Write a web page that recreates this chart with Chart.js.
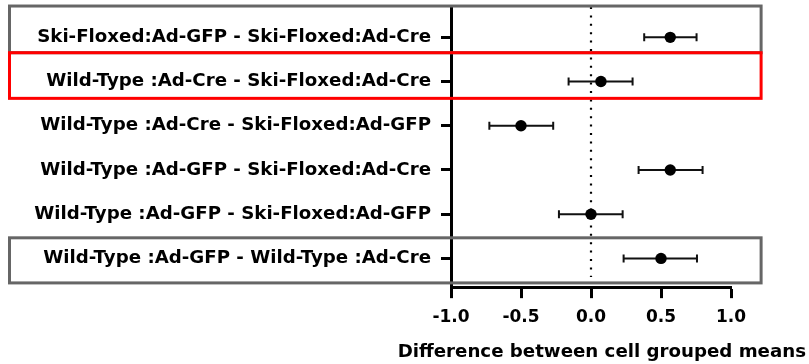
<!DOCTYPE html>
<html><head><meta charset="utf-8">
<script src="https://cdn.jsdelivr.net/npm/chart.js@4/dist/chart.umd.min.js"></script>
<style>html,body{margin:0;padding:0;background:#fff;}#wrap{width:809px;height:364px;}</style>
</head><body><div id="wrap"><canvas id="c" width="809" height="364"></canvas></div>
<script>
const categories = [
  'Ski-Floxed:Ad-GFP - Ski-Floxed:Ad-Cre',
  'Wild-Type :Ad-Cre - Ski-Floxed:Ad-Cre',
  'Wild-Type :Ad-Cre - Ski-Floxed:Ad-GFP',
  'Wild-Type :Ad-GFP - Ski-Floxed:Ad-Cre',
  'Wild-Type :Ad-GFP - Ski-Floxed:Ad-GFP',
  'Wild-Type :Ad-GFP - Wild-Type :Ad-Cre'
];
const means   = [0.566, 0.071, -0.50, 0.566, 0.0, 0.50];
const lowerCI = [0.38, -0.16, -0.726, 0.34, -0.229, 0.233];
const upperCI = [0.754, 0.297, -0.27, 0.797, 0.226, 0.757];
const xTickValues = [-1, -0.5, 0, 0.5, 1];
const xTickLabels = ['-1.0', '-0.5', '0.0', '0.5', '1.0'];
const xAxisTitle = 'Difference between cell grouped means';

const FONT = "'DejaVu Sans', sans-serif";

const annotPlugin = {
  id: 'annot',
  beforeDatasetsDraw(chart) {
    const {ctx, scales: {x, y}, chartArea} = chart;
    ctx.save();
    ctx.strokeStyle = '#000';
    ctx.lineWidth = 2.2;
    ctx.setLineDash([2, 6.4]);
    const zx = x.getPixelForValue(0);
    ctx.beginPath();
    ctx.moveTo(zx, chartArea.top);
    ctx.lineTo(zx, y.getPixelForValue(5.42));
    ctx.stroke();
    ctx.setLineDash([]);
    ctx.strokeStyle = '#111';
    ctx.lineWidth = 2;
    means.forEach((m, i) => {
      const py = y.getPixelForValue(i);
      const x1 = x.getPixelForValue(lowerCI[i]);
      const x2 = x.getPixelForValue(upperCI[i]);
      ctx.beginPath();
      ctx.moveTo(x1, py); ctx.lineTo(x2, py);
      ctx.moveTo(x1, py - 4); ctx.lineTo(x1, py + 4);
      ctx.moveTo(x2, py - 4); ctx.lineTo(x2, py + 4);
      ctx.stroke();
    });
    ctx.restore();
  },
  afterDraw(chart) {
    const {ctx, scales: {x, y}} = chart;
    const boxes = [
      {top: -0.708, bottom: 0.348, color: '#666666'},
      {top: 0.348, bottom: 1.38, color: '#ff0000'},
      {top: 4.534, bottom: 5.554, color: '#666666'}
    ];
    ctx.save();
    ctx.lineWidth = 3;
    boxes.forEach(b => {
      const t = y.getPixelForValue(b.top), bt = y.getPixelForValue(b.bottom);
      const l = 9.5, r = x.getPixelForValue(1.215);
      ctx.strokeStyle = b.color;
      ctx.strokeRect(l, t, r - l, bt - t);
    });
    ctx.restore();
  }
};

new Chart(document.getElementById('c'), {
  type: 'scatter',
  data: {
    datasets: [{
      data: means.map((m, i) => ({x: m, y: i})),
      backgroundColor: '#000',
      borderColor: '#000',
      borderWidth: 0,
      pointRadius: 5.7,
      pointHoverRadius: 5.7
    }]
  },
  options: {
    responsive: false,
    animation: false,
    layout: {padding: {top: 7, right: 3, bottom: 1, left: 0}},
    plugins: {
      legend: {display: false},
      tooltip: {enabled: false},
      title: {
        display: true, text: xAxisTitle, position: 'bottom', align: 'end',
        font: {family: FONT, weight: 'bold', size: 18.2}, color: '#000',
        padding: {top: 0, bottom: 0}
      }
    },
    scales: {
      x: {
        type: 'linear', min: -1, max: 1, position: 'bottom',
        afterBuildTicks(s) { s.ticks = xTickValues.map(v => ({value: v})); },
        afterFit(s) { s.height = 54; s.paddingLeft = 0; s.paddingRight = 0; },
        ticks: {
          callback: (v) => xTickLabels[xTickValues.indexOf(v)],
          font: {family: FONT, weight: 'bold', size: 17}, color: '#000',
          padding: 9, maxRotation: 0, autoSkip: false
        },
        grid: {drawOnChartArea: false, drawTicks: true, tickLength: 11, tickWidth: 3, tickColor: '#000'},
        border: {display: true, color: '#000', width: 3}
      },
      y: {
        type: 'linear', reverse: true, min: -0.686, max: 5.65, position: 'left',
        afterBuildTicks(s) { s.ticks = categories.map((_, i) => ({value: i})); },
        afterFit(s) { s.width = 451; s.paddingTop = 0; s.paddingBottom = 0; },
        ticks: {
          callback: (v) => categories[v],
          font: {family: FONT, weight: 'bold', size: 18.2}, color: '#000',
          padding: 10, autoSkip: false
        },
        grid: {drawOnChartArea: false, drawTicks: true, tickLength: 10, tickWidth: 3, tickColor: '#000'},
        border: {display: true, color: '#000', width: 3}
      },
      yR: {
        type: 'linear', position: 'right', display: true,
        afterFit(s) { s.width = 75; s.paddingTop = 0; s.paddingBottom = 0; },
        ticks: {display: false},
        grid: {display: false, drawTicks: false},
        border: {display: false}
      }
    }
  },
  plugins: [annotPlugin]
});
</script>
</body></html>
